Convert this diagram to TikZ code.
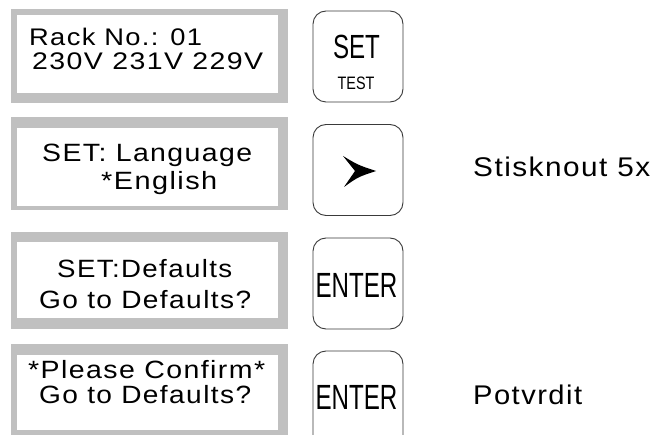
\documentclass[tikz,border=0pt]{standalone}
\usepackage{fontspec}
\setmainfont{Liberation Sans}
\newfontfamily\lcdfont[LetterSpace=5]{Liberation Sans}
\newfontfamily\notefont[LetterSpace=5]{Liberation Sans}
\definecolor{framegrey}{HTML}{C0C0C0}
\definecolor{keyline}{HTML}{3A3A3A}
\tikzset{
  lcdframe/.style={fill=framegrey, draw=none, inner sep=0pt, outer sep=0pt},
  lcdscreen/.style={fill=white, draw=none, inner sep=0pt, outer sep=0pt},
  lcdtext/.style={anchor=base west, inner sep=0pt, text height=17pt, text depth=0pt,
    font=\lcdfont\fontsize{25}{30}\selectfont},
  lcdsmall/.style={lcdtext, font=\lcdfont\fontsize{24}{29}\selectfont},
  notetext/.style={anchor=base west, inner sep=0pt, text height=19pt, text depth=0pt,
    font=\notefont\fontsize{27}{32}\selectfont},
  keybox/.style={draw=keyline, line width=0.9pt, rounded corners=13pt, fill=white,
    minimum width=90pt, inner sep=0pt, outer sep=0pt},
  keytext/.style={anchor=base, inner sep=0pt, text depth=0pt},
}
% stretch a line of text to a given width, keeping its height
\newcommand{\spanto}[2]{\resizebox{#1}{\height}{#2}}
\newcommand{\keylabel}[3]{\fontsize{#1}{#1}\selectfont\scalebox{#2}[1]{#3}}
\begin{document}
\begin{tikzpicture}[x=1pt, y=-1pt]
  \useasboundingbox (0,0) rectangle (655,435);
  \clip (0,0) rectangle (655,435);

  % LCD display frames and screens
  \node[lcdframe, minimum width=277pt, minimum height=94pt] (f1) at (149.5,56) {};
  \node[lcdscreen, minimum width=261pt, minimum height=78pt] (s1) at (147.5,54) {};
  \node[lcdframe, minimum width=277pt, minimum height=93pt] (f2) at (149.5,163.5) {};
  \node[lcdscreen, minimum width=261pt, minimum height=78pt] (s2) at (147.5,167) {};
  \node[lcdframe, minimum width=277pt, minimum height=97pt] (f3) at (149.5,280.5) {};
  \node[lcdscreen, minimum width=261pt, minimum height=76pt] (s3) at (147.5,280) {};
  \node[lcdframe, minimum width=277pt, minimum height=100pt] (f4) at (149.5,394) {};
  \node[lcdscreen, minimum width=261pt, minimum height=75pt] (s4) at (147.5,392.5) {};

  % display contents
  \node[lcdsmall] (t1a) at (29,46) {\spanto{173pt}{Rack No.: 01}};
  \node[lcdsmall] (t1b) at (32,69.5) {\spanto{231pt}{230V 231V 229V}};
  \node[lcdtext] (t2a) at (42,162) {\spanto{210pt}{SET: Language}};
  \node[lcdtext] (t2b) at (101,190) {\spanto{116pt}{*English}};
  \node[lcdtext] (t3a) at (57,278) {\spanto{175pt}{SET:Defaults}};
  \node[lcdtext] (t3b) at (39,308) {\spanto{212pt}{Go to Defaults?}};
  \node[lcdtext] (t4a) at (28,378) {\spanto{237pt}{*Please Confirm*}};
  \node[lcdtext] (t4b) at (39,403) {\spanto{212pt}{Go to Defaults?}};

  % keys
  \node[keybox, minimum height=91pt] (k1) at (358,56.5) {};
  \node[keybox, minimum height=91pt] (k2) at (358,170) {};
  \node[keybox, minimum height=91pt] (k3) at (358,283.5) {};
  \node[keybox, minimum height=100pt] (k4) at (358,401) {};

  \node[keytext] (k1a) at (356.5,59) {\keylabel{33.5}{0.72}{SET}};
  \node[keytext] (k1b) at (356,90) {\keylabel{18}{0.8}{TEST}};
  \node[keytext] (k3a) at (356.5,298) {\keylabel{35}{0.69}{ENTER}};
  \node[keytext] (k4a) at (356.5,409) {\keylabel{35}{0.69}{ENTER}};

  % arrow glyph on the navigation key
  \fill[black] (343,156) .. controls (358,165) .. (376,171)
    .. controls (358,177) .. (344,187) -- (355,171) -- cycle;

  % notes
  \node[notetext] (n2) at (473,177) {\spanto{177pt}{Stisknout 5x}};
  \node[notetext] (n4) at (473,404) {\spanto{109pt}{Potvrdit}};
\end{tikzpicture}
\end{document}
